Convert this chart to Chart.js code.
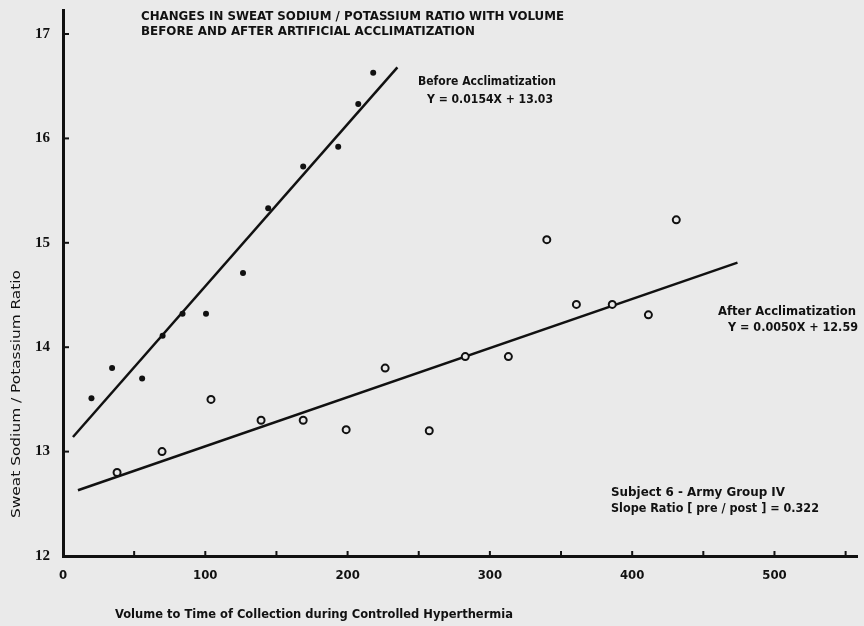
<!DOCTYPE html>
<html>
<head>
<meta charset="utf-8">
<title>Sweat Sodium / Potassium Ratio</title>
<script src="https://cdn.jsdelivr.net/npm/chart.js@4/dist/chart.umd.min.js"></script>
<style>
  html, body { margin: 0; padding: 0; background: #eaeaea; }
  canvas { display: block; }
</style>
</head>
<body>
<canvas id="chart" width="864" height="626"></canvas>
<script>
'use strict';

//
// Values.
//
var beforeX = [20, 34.5, 55.6, 70, 84, 100.5, 126.5, 144.2, 168.8, 193.4, 207.5, 218];
var beforeY = [13.51, 13.80, 13.70, 14.11, 14.32, 14.32, 14.71, 15.33, 15.73, 15.92, 16.33, 16.63];

var afterX = [38, 69.6, 104, 139.2, 168.8, 199, 226.4, 257.4, 282.7, 313, 340, 360.8, 386, 411.4, 431];
var afterY = [12.80, 13.00, 13.50, 13.30, 13.30, 13.21, 13.80, 13.20, 13.91, 13.91, 15.03, 14.41, 14.41, 14.31, 15.22];

// fitted lines, ends as drawn
var beforeLineX = [7, 235];
var beforeLineY = [13.14, 16.68];
var afterLineX = [10.5, 474];
var afterLineY = [12.63, 14.81];

var xTicks = [0, 100, 200, 300, 400, 500];
var yTicks = [12, 13, 14, 15, 16, 17];

var INK = '#111';
var FONT = '"Liberation Sans Narrow", "DejaVu Sans Condensed", "Liberation Sans", sans-serif';

function pairs(xs, ys) {
  return xs.map(function map(x, i) { return { x: x, y: ys[i] }; });
}

/**
 * Write text squeezed or stretched to a given width.
 */
function label(ctx, str, x, y, width, size) {
  ctx.save();
  ctx.font = 'bold ' + size + 'px ' + FONT;
  ctx.textBaseline = 'middle';
  ctx.textAlign = 'left';
  var w = ctx.measureText(str).width;
  ctx.translate(x, y);
  ctx.scale(width / w, 1);
  ctx.fillText(str, 0, 0);
  ctx.restore();
}

//
// Paper background, inward tick marks and the lettering.
//
var paper = {
  id: 'paper',
  beforeDraw: function beforeDraw(chart) {
    var ctx = chart.ctx;
    ctx.save();
    ctx.fillStyle = '#eaeaea';
    ctx.fillRect(0, 0, chart.width, chart.height);
    ctx.restore();
  },
  afterDraw: function afterDraw(chart) {
    var ctx = chart.ctx
      , xs = chart.scales.x
      , ys = chart.scales.y
      , area = chart.chartArea;

    ctx.save();
    ctx.strokeStyle = INK;
    ctx.lineWidth = 2;
    xs.ticks.forEach(function tick(t) {
      if (t.value === 0) return;
      var px = xs.getPixelForValue(t.value);
      ctx.beginPath();
      ctx.moveTo(px, area.bottom);
      ctx.lineTo(px, area.bottom - 5);
      ctx.stroke();
    });
    ys.ticks.forEach(function tick(t) {
      if (t.value === 12) return;
      var py = ys.getPixelForValue(t.value);
      ctx.beginPath();
      ctx.moveTo(area.left, py);
      ctx.lineTo(area.left + 6, py);
      ctx.stroke();
    });

    ctx.fillStyle = INK;
    label(ctx, 'CHANGES IN SWEAT SODIUM / POTASSIUM RATIO WITH VOLUME', 141, 17, 423, 13);
    label(ctx, 'BEFORE AND AFTER ARTIFICIAL ACCLIMATIZATION', 141, 32, 334, 13);
    label(ctx, 'Before Acclimatization', 418, 82, 138, 13);
    label(ctx, 'Y = 0.0154X + 13.03', 427, 100, 126, 13);
    label(ctx, 'After Acclimatization', 718, 312, 138, 13);
    label(ctx, 'Y = 0.0050X + 12.59', 728, 328, 130, 13);
    label(ctx, 'Subject 6 - Army Group IV', 611, 493, 174, 13);
    label(ctx, 'Slope Ratio [ pre / post ] = 0.322', 611, 509, 208, 13);
    label(ctx, 'Volume to Time of Collection during Controlled Hyperthermia', 115, 615, 398, 12);

    ctx.save();
    ctx.translate(17, 518);
    ctx.rotate(-Math.PI / 2);
    ctx.font = '500 12px ' + FONT;
    ctx.textBaseline = 'middle';
    var str = 'Sweat Sodium / Potassium Ratio';
    ctx.scale(248 / ctx.measureText(str).width, 1);
    ctx.fillText(str, 0, 0);
    ctx.restore();

    ctx.restore();
  }
};

var chart = new Chart(document.getElementById('chart'), {
  type: 'scatter',
  data: {
    datasets: [{
      data: pairs(beforeX, beforeY),
      pointStyle: 'circle',
      pointRadius: 3,
      pointBackgroundColor: INK,
      pointBorderColor: INK,
      pointBorderWidth: 0
    }, {
      data: pairs(afterX, afterY),
      pointStyle: 'circle',
      pointRadius: 3.5,
      pointBackgroundColor: '#eaeaea',
      pointBorderColor: INK,
      pointBorderWidth: 2
    }, {
      data: pairs(beforeLineX, beforeLineY),
      showLine: true,
      borderColor: INK,
      borderWidth: 2.5,
      pointRadius: 0
    }, {
      data: pairs(afterLineX, afterLineY),
      showLine: true,
      borderColor: INK,
      borderWidth: 2.5,
      pointRadius: 0
    }]
  },
  options: {
    responsive: false,
    animation: false,
    devicePixelRatio: 1,
    layout: { padding: { top: 10, right: 7, left: 0, bottom: 0 } },
    plugins: {
      legend: { display: false },
      tooltip: { enabled: false }
    },
    scales: {
      x: {
        type: 'linear',
        min: 0,
        max: 558,
        afterFit: function afterFit(scale) { scale.height = 70; },
        grid: { display: false },
        border: { display: true, color: INK, width: 3 },
        ticks: {
          stepSize: 50,
          includeBounds: false,
          maxRotation: 0,
          autoSkip: false,
          padding: 4,
          color: INK,
          font: { family: FONT, size: 13, weight: 'bold' },
          callback: function callback(v) {
            return xTicks.indexOf(v) >= 0 ? String(v) : '';
          }
        }
      },
      y: {
        type: 'linear',
        min: 12,
        max: 17.23,
        afterFit: function afterFit(scale) {
          scale.width = 63;
          // label overhang is not wanted at the ends of the axis
          scale.paddingTop = 0;
          scale.paddingBottom = 0;
        },
        grid: { display: false },
        border: { display: true, color: INK, width: 3 },
        ticks: {
          stepSize: 1,
          includeBounds: false,
          padding: 5,
          color: INK,
          font: { family: '"Liberation Serif", serif', size: 15, weight: 'bold' },
          callback: function callback(v) {
            return yTicks.indexOf(v) >= 0 ? String(v) : '';
          }
        }
      }
    }
  },
  plugins: [paper]
});
</script>
</body>
</html>
